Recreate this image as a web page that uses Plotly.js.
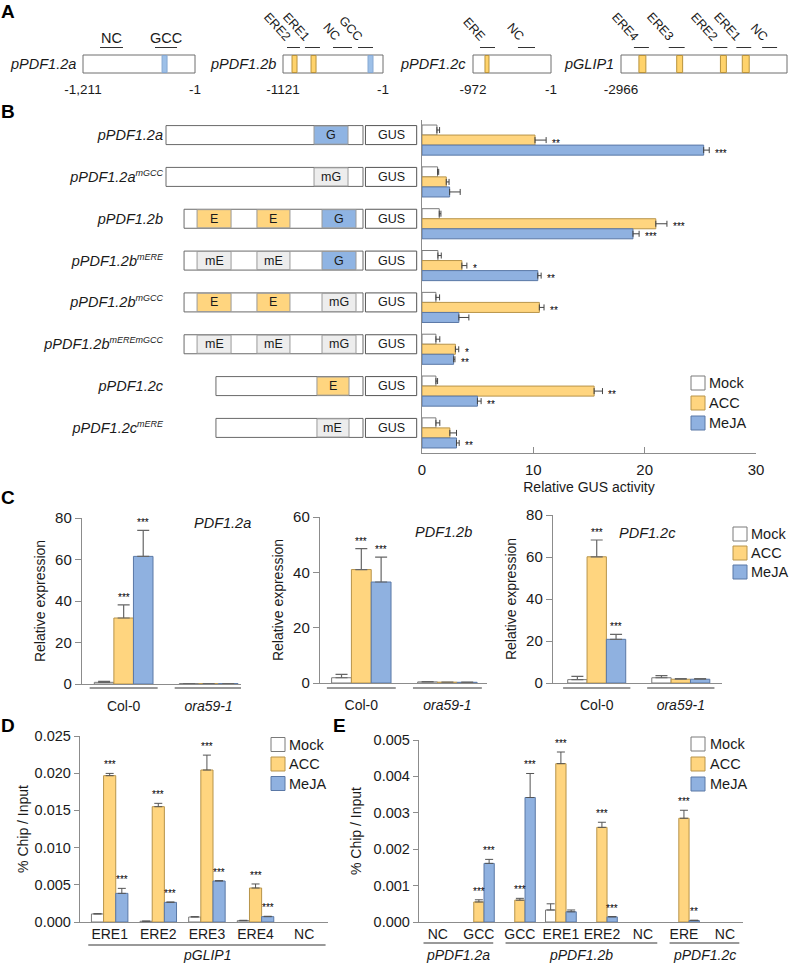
<!DOCTYPE html>
<html><head><meta charset="utf-8">
<script src="https://cdn.plot.ly/plotly-3.0.1.min.js"></script>
<style>body{margin:0;background:#fff}#chart{width:789px;height:963px}</style>
</head><body><div id="chart"></div>
<script>
// ================= DATA =================
const seriesNames = ['Mock', 'ACC', 'MeJA'];

// Panel A: promoter maps (bp relative to ATG)
const aPromoters = ['pPDF1.2a', 'pPDF1.2b', 'pPDF1.2c', 'pGLIP1'];
const aLengths = [1211, 1121, 972, 2966];
const aStartLabels = ['-1,211', '-1121', '-972', '-2966'];
const aSiteStarts = [[-357], [-1020, -807, -169], [-823], [-2646, -1971, -1190, -800]];
const aSiteEnds = [[-303], [-964, -751, -113], [-773], [-2522, -1865, -1084, -676]];
const aSiteTypes = [['GCC'], ['ERE', 'ERE', 'GCC'], ['ERE'], ['ERE', 'ERE', 'ERE', 'ERE']];
const aAmpNames = [['NC', 'GCC'], ['ERE2', 'ERE1', 'NC', 'GCC'], ['ERE', 'NC'], ['ERE4', 'ERE3', 'ERE2', 'ERE1', 'NC']];
const aAmpStarts = [[-1027, -433], [-1076, -875, -561, -281], [-885, -412], [-2735, -2113, -1315, -906, -445]];
const aAmpEnds = [[-779, -195], [-931, -707, -348, -113], [-698, -200], [-2468, -1829, -1066, -640, -178]];

// Panel B: reporter constructs and GUS activity
const bConstructs = ['pPDF1.2a', 'pPDF1.2a', 'pPDF1.2b', 'pPDF1.2b', 'pPDF1.2b', 'pPDF1.2b', 'pPDF1.2c', 'pPDF1.2c'];
const bMutations = ['', 'mGCC', '', 'mERE', 'mGCC', 'mEREmGCC', '', 'mERE'];
const bPromoterStart = [-1211, -1211, -1100, -1100, -1100, -1100, -904, -904];
const bSiteStarts = [[-301], [-301], [-1020, -652, -252], [-1020, -652, -252], [-1020, -652, -252], [-1020, -652, -252], [-283], [-283]];
const bSiteEnds = [[-92], [-92], [-811, -449, -43], [-811, -449, -43], [-811, -449, -43], [-811, -449, -43], [-86], [-86]];
const bSiteTypes = [['G'], ['mG'], ['E', 'E', 'G'], ['mE', 'mE', 'G'], ['E', 'E', 'mG'], ['mE', 'mE', 'mG'], ['E'], ['mE']];
const bReporter = 'GUS';
const bMock = [1.34, 1.40, 1.55, 1.43, 1.25, 1.25, 1.25, 1.25];
const bMockErr = [0.24, 0.10, 0.15, 0.30, 0.33, 0.35, 0.15, 0.35];
const bACC = [10.15, 2.18, 21.0, 3.58, 10.54, 3.0, 15.46, 2.5];
const bACCErr = [1.0, 0.25, 1.0, 0.45, 0.42, 0.30, 0.75, 0.60];
const bMeJA = [25.3, 2.48, 18.95, 10.4, 3.31, 2.84, 4.98, 3.1];
const bMeJAErr = [0.5, 0.95, 0.55, 0.30, 0.90, 0.12, 0.33, 0.24];
const bACCStars = ['**', '', '***', '*', '**', '*', '**', ''];
const bMeJAStars = ['***', '', '***', '**', '', '**', '**', '**'];
const bTicks = [0, 10, 20, 30];

// Panel C: qRT-PCR
const cGenes = ['PDF1.2a', 'PDF1.2b', 'PDF1.2c'];
const cGenotypes = ['Col-0', 'ora59-1'];
const cYMax = [80, 60, 80];
const cMock = [[0.8, 0.2], [1.9, 0.4], [1.6, 2.5]];
const cMockErr = [[0.5, 0.05], [1.2, 0.1], [1.6, 1.0]];
const cACC = [[31.8, 0.2], [41.0, 0.3], [60.1, 1.8]];
const cACCErr = [[6.3, 0.05], [7.6, 0.05], [8.0, 0.3]];
const cMeJA = [[61.5, 0.2], [36.5, 0.25], [20.8, 1.8]];
const cMeJAErr = [[12.5, 0.05], [9.0, 0.05], [2.4, 0.3]];
const cACCStars = [['***', ''], ['***', ''], ['***', '']];
const cMeJAStars = [['***', ''], ['***', ''], ['***', '']];

// Panel D: ChIP on pGLIP1
const dSites = ['ERE1', 'ERE2', 'ERE3', 'ERE4', 'NC'];
const dGroup = 'pGLIP1';
const dMock = [0.00108, 0.0001, 0.00067, 0.00018, null];
const dMockErr = [0.00004, 0.00002, 0.00005, 0.00005, 0];
const dACC = [0.01967, 0.0155, 0.02043, 0.00457, null];
const dACCErr = [0.0003, 0.00045, 0.002, 0.00054, 0];
const dMeJA = [0.00385, 0.00264, 0.00551, 0.00072, null];
const dMeJAErr = [0.00067, 0.00005, 0.00005, 0.00005, 0];
const dACCStars = ['***', '***', '***', '***', ''];
const dMeJAStars = ['***', '***', '***', '***', ''];

// Panel E: ChIP on PDF1.2 promoters
const eSites = ['NC', 'GCC', 'GCC', 'ERE1', 'ERE2', 'NC', 'ERE', 'NC'];
const eGroups = ['pPDF1.2a', 'pPDF1.2b', 'pPDF1.2c'];
const eGroupFirst = [0, 2, 6];
const eGroupLast = [1, 5, 7];
const eMock = [null, null, null, 0.00033, null, null, null, null];
const eMockErr = [0, 0, 0, 0.00017, 0, 0, 0, 0];
const eACC = [null, 0.00055, 0.0006, 0.00435, 0.0026, null, 0.00285, null];
const eACCErr = [0, 0.00006, 0.00005, 0.00032, 0.00014, 0, 0.00022, 0];
const eMeJA = [null, 0.00161, 0.00342, 0.00028, 0.00014, null, 0.00004, null];
const eMeJAErr = [0, 0.00011, 0.00066, 0.00005, 0.00001, 0, 0.00001, 0];
const eACCStars = ['', '***', '***', '***', '***', '', '***', ''];
const eMeJAStars = ['', '***', '***', '', '***', '', '**', ''];

// ================= STYLE =================
const W = 789, H = 963;
const FONT = '"Liberation Sans", Arial, sans-serif';
const TXT = '#1a1a1a';
const AXC = '#8c8c8c';
const seriesFill = ['#FFFFFF', '#FFD57F', '#8FB1E0'];
const seriesLine = ['#7a7a7a', '#B8944A', '#5A78A6'];
const siteFill = {E: '#FFD57F', G: '#8FB4E3', mE: '#EDEDED', mG: '#EDEDED', ERE: '#FFD36B', GCC: '#9DC0E8'};
const siteLine = {ERE: '#B8923C', GCC: '#86A8D2'};

const px = p => p / W;
const py = p => 1 - p / H;
const dX = (l, r) => [Math.max(0, l / W), Math.min(1, r / W)];
const dY = (t, b) => [Math.max(0, 1 - b / H), Math.min(1, 1 - t / H)];
const axName = (l, k) => (k === 1 ? l + 'axis' : l + 'axis' + k);
const axRef = (l, k) => (k === 1 ? l : l + k);

const traces = [], shapes = [], annotations = [];
const layout = {
  width: W, height: H, margin: {l: 0, r: 0, t: 0, b: 0},
  paper_bgcolor: '#ffffff', plot_bgcolor: 'rgba(0,0,0,0)',
  showlegend: false, barmode: 'overlay', hovermode: false,
  font: {family: FONT, size: 14, color: TXT}
};

function note(o) {
  const base = {showarrow: false, font: {size: 14, color: TXT, family: FONT}};
  const f = Object.assign({}, base.font, o.font || {});
  annotations.push(Object.assign(base, o, {font: f}));
}
function stars(o) { note(Object.assign(o, {font: {size: 10, color: '#000'}})); }
function legendAt(boxLeft, textLeft, centers) {
  seriesNames.forEach((n, s) => {
    shapes.push({type: 'rect', xref: 'paper', yref: 'paper', x0: px(boxLeft), x1: px(boxLeft + 14),
      y0: py(centers[s] + 7), y1: py(centers[s] - 7), fillcolor: seriesFill[s], line: {color: seriesLine[s], width: 1}});
    note({xref: 'paper', yref: 'paper', x: px(textLeft), y: py(centers[s]), xanchor: 'left', yanchor: 'middle', text: n, font: {size: 14.5}});
  });
}
function letter(t, x, y, anchor) {
  note({xref: 'paper', yref: 'paper', x: px(x), y: py(y), xanchor: 'left', yanchor: anchor || 'middle', borderpad: 0,
    text: '<b>' + t + '</b>', font: {size: 19, color: '#000'}});
}

// ================= PANEL A =================
const aBoxLeftPx = [83, 283, 473, 621], aBoxRightPx = [195, 383, 551, 787];
aPromoters.forEach((name, i) => {
  const k = i + 1, xr = axRef('x', k), yr = axRef('y', k);
  const len = aLengths[i], L = aBoxLeftPx[i], R = aBoxRightPx[i];
  const s = (len - 1) / (R - L);
  const dl = L - 4, dr = Math.min(W, R + 4);
  layout[axName('x', k)] = {domain: dX(dl, dr), range: [-len - (L - dl) * s, -1 + (dr - R) * s], anchor: yr,
    showgrid: false, zeroline: false, showline: false, ticks: '', tickvals: [-len, -1], ticktext: [aStartLabels[i], '-1'],
    tickfont: {size: 13.5}, ticklabelstandoff: 1, fixedrange: true};
  layout[axName('y', k)] = {domain: dY(30, 78), range: [0, 48], anchor: xr, visible: false, fixedrange: true};
  shapes.push({type: 'rect', xref: xr, yref: yr, x0: -len, x1: -1, y0: 5, y1: 23, fillcolor: '#fff', line: {color: '#6e6e6e', width: 1}});
  aSiteStarts[i].forEach((st, j) => {
    const t = aSiteTypes[i][j];
    shapes.push({type: 'rect', xref: xr, yref: yr, x0: st, x1: aSiteEnds[i][j], y0: 5.5, y1: 22.5, fillcolor: siteFill[t], line: {color: siteLine[t], width: 1}});
  });
  aAmpNames[i].forEach((nm, j) => {
    const c = (aAmpStarts[i][j] + aAmpEnds[i][j]) / 2;
    shapes.push({type: 'line', xref: xr, yref: yr, x0: aAmpStarts[i][j], x1: aAmpEnds[i][j], y0: 30.5, y1: 30.5, line: {color: '#333', width: 1}});
    if (i === 0) note({xref: xr, yref: yr, x: c, y: 30.5, text: nm, yanchor: 'bottom', yshift: 0, font: {size: 14.5}});
    else note({xref: xr, yref: yr, x: c, y: 30.5, text: nm, textangle: 48, xanchor: 'right', yanchor: 'bottom', xshift: 3, yshift: 1, font: {size: 12.5}});
  });
  note({xref: xr, yref: yr, x: -len, y: 14, text: '<i>' + name + '</i>', xanchor: 'right', yanchor: 'middle', xshift: -5, font: {size: 14.5}});
});
letter('A', 0, 0, 'top');

// ================= PANEL B =================
const bRows = bConstructs.map((_, i) => i);
const bsL = 164, bsR = 420, bsZero = 363, bsScale = 1211 / (363 - 166);
layout.xaxis5 = {domain: dX(bsL, bsR), range: [(bsL - bsZero) * bsScale, (bsR - bsZero) * bsScale], anchor: 'y5', visible: false, fixedrange: true};
layout.yaxis5 = {domain: dY(115, 448), range: [7.48, -0.48], anchor: 'x5', tickvals: bRows,
  ticktext: bConstructs.map((c, i) => '<i>' + c + (bMutations[i] ? '<sup><span style="font-size:9px">' + bMutations[i] + '</span></sup>' : '') + '</i>'),
  ticks: '', showline: false, showgrid: false, zeroline: false,
  tickfont: {size: 14.5}, ticklabelstandoff: 0, fixedrange: true};
const hb = 0.227;
bRows.forEach(i => {
  shapes.push({type: 'rect', xref: 'x5', yref: 'y5', x0: bPromoterStart[i], x1: 0, y0: i - hb, y1: i + hb, fillcolor: '#fff', line: {color: '#6a6a6a', width: 1}});
  bSiteStarts[i].forEach((st, j) => {
    const t = bSiteTypes[i][j], en = bSiteEnds[i][j];
    shapes.push({type: 'rect', xref: 'x5', yref: 'y5', x0: st, x1: en, y0: i - hb + 0.01, y1: i + hb - 0.01, fillcolor: siteFill[t], line: {color: '#9a9a9a', width: 1}});
    note({xref: 'x5', yref: 'y5', x: (st + en) / 2, y: i, text: t, font: {size: 12.5}});
  });
  shapes.push({type: 'rect', xref: 'x5', yref: 'y5', x0: 15, x1: 330, y0: i - hb, y1: i + hb, fillcolor: '#fff', line: {color: '#555', width: 1}});
  note({xref: 'x5', yref: 'y5', x: (15 + 330) / 2, y: i, text: bReporter, font: {size: 12.5}});
});

layout.xaxis6 = {domain: dX(422, 756), range: [0, 30], anchor: 'y6', showline: true, linecolor: AXC, linewidth: 1.2,
  ticks: 'inside', ticklen: 6, tickcolor: AXC, tickvals: bTicks, showgrid: false, zeroline: false,
  tickfont: {size: 15}, ticklabelstandoff: 3, fixedrange: true,
  title: {text: 'Relative GUS activity', font: {size: 14}, standoff: 5}};
layout.yaxis6 = {domain: dY(120, 453), range: [7.48, -0.48], anchor: 'x6', showline: true, linecolor: AXC, linewidth: 1.2,
  showticklabels: false, ticks: '', showgrid: false, zeroline: false, fixedrange: true};
const bVals = [bMock, bACC, bMeJA], bErrs = [bMockErr, bACCErr, bMeJAErr];
const bOff = [-0.36, -0.12, 0.12], bW = 0.24;
bVals.forEach((v, s) => {
  traces.push({type: 'bar', orientation: 'h', name: seriesNames[s], x: v, y: bRows, xaxis: 'x6', yaxis: 'y6',
    offset: bOff[s], width: bW, marker: {color: seriesFill[s], line: {color: seriesLine[s], width: 1}},
    error_x: {type: 'data', symmetric: false, array: bErrs[s], arrayminus: v.map(() => 0), color: '#444', thickness: 1, width: 3}});
});
[[bACC, bACCErr, bACCStars, 1], [bMeJA, bMeJAErr, bMeJAStars, 2]].forEach(([v, e, st, s]) => {
  st.forEach((t, i) => { if (t) stars({xref: 'x6', yref: 'y6', x: v[i] + e[i], y: i + bOff[s] + bW / 2, text: t, xanchor: 'left', yanchor: 'middle', xshift: 4, yshift: -3}); });
});
legendAt(691, 707, [383, 403, 423]);
letter('B', 0, 111);

// ================= PANEL C =================
const cBox = [{x: [82, 241], y: [518, 684], r: [-0.49, 1.38]}, {x: [320, 487], y: [517, 683], r: [-0.48, 1.46]}, {x: [553, 722], y: [515, 683], r: [-0.52, 1.49]}];
const cTitlePos = [[192, 523], [443, 532], [678, 533]];
const cX = cGenotypes.map((_, i) => i);
const cOff = [-0.345, -0.115, 0.115], cW = 0.23;
cGenes.forEach((g, p) => {
  const k = 7 + p, xr = 'x' + k, yr = 'y' + k, b = cBox[p];
  layout['xaxis' + k] = {domain: dX(b.x[0], b.x[1]), range: b.r, anchor: yr, showline: true, linecolor: AXC, linewidth: 1.2,
    ticks: '', tickvals: cX, ticktext: cGenotypes.map((t, i) => (i === 1 ? '<i>' + t + '</i>' : t)),
    tickfont: {size: 14}, ticklabelstandoff: 9, showgrid: false, zeroline: false, fixedrange: true};
  layout['yaxis' + k] = {domain: dY(b.y[0], b.y[1]), range: [0, cYMax[p]], dtick: 20, anchor: xr, showline: true, linecolor: AXC, linewidth: 1.2,
    ticks: 'outside', ticklen: 6, tickcolor: AXC, tickfont: {size: 15}, showgrid: false, zeroline: false, fixedrange: true,
    title: {text: 'Relative expression', font: {size: 14}, standoff: 6}};
  const vals = [cMock[p], cACC[p], cMeJA[p]], errs = [cMockErr[p], cACCErr[p], cMeJAErr[p]];
  vals.forEach((v, s) => {
    traces.push({type: 'bar', name: seriesNames[s], x: cX, y: v, xaxis: xr, yaxis: yr, offset: cOff[s], width: cW,
      marker: {color: seriesFill[s], line: {color: seriesLine[s], width: 1}},
      error_y: {type: 'data', symmetric: false, array: errs[s], arrayminus: v.map(() => 0), color: '#666', thickness: 1.2, width: 6}});
  });
  [[cACC[p], cACCErr[p], cACCStars[p], 1], [cMeJA[p], cMeJAErr[p], cMeJAStars[p], 2]].forEach(([v, e, st, s]) => {
    st.forEach((t, i) => { if (t) stars({xref: xr, yref: yr, x: i + cOff[s] + cW / 2, y: v[i] + e[i], text: t, yanchor: 'bottom', yshift: 0}); });
  });
  cX.forEach(i => shapes.push({type: 'line', xref: xr, yref: 'paper', x0: i - 0.4, x1: i + 0.4, y0: py(688), y1: py(688), line: {color: '#999', width: 2}}));
  note({xref: 'paper', yref: 'paper', x: px(cTitlePos[p][0]), y: py(cTitlePos[p][1]), text: '<i>' + g + '</i>', font: {size: 14.5}});
});
legendAt(733, 749, [534, 553, 572]);
letter('C', 0, 497);

// ================= PANEL D =================
const dX_ = dSites.map((_, i) => i);
const gOff = [-0.375, -0.125, 0.125], gW = 0.25;
layout.xaxis10 = {domain: dX(80, 328), range: [-0.61, 4.49], anchor: 'y10', showline: true, linecolor: AXC, linewidth: 1.2,
  ticks: '', tickvals: dX_, ticktext: dSites, tickfont: {size: 14}, ticklabelstandoff: -1, showgrid: false, zeroline: false, fixedrange: true};
layout.yaxis10 = {domain: dY(736, 922), range: [0, 0.025], dtick: 0.005, tickformat: '.3f', anchor: 'x10', showline: true, linecolor: AXC, linewidth: 1.2,
  ticks: 'outside', ticklen: 5, tickcolor: AXC, tickfont: {size: 14.5}, showgrid: false, zeroline: false, fixedrange: true,
  title: {text: '% Chip / Input', font: {size: 14}, standoff: 2}};
[[dMock, dMockErr], [dACC, dACCErr], [dMeJA, dMeJAErr]].forEach(([v, e], s) => {
  traces.push({type: 'bar', name: seriesNames[s], x: dX_, y: v, xaxis: 'x10', yaxis: 'y10', offset: gOff[s], width: gW,
    marker: {color: seriesFill[s], line: {color: seriesLine[s], width: 1}},
    error_y: {type: 'data', symmetric: false, array: e, arrayminus: e.map(() => 0), color: '#555', thickness: 1, width: 4}});
});
[[dACC, dACCErr, dACCStars, 1], [dMeJA, dMeJAErr, dMeJAStars, 2]].forEach(([v, e, st, s]) => {
  st.forEach((t, i) => { if (t) stars({xref: 'x10', yref: 'y10', x: i + gOff[s] + gW / 2, y: v[i] + e[i], text: t, yanchor: 'bottom', yshift: 1}); });
});
shapes.push({type: 'line', xref: 'x10', yref: 'paper', x0: -0.44, x1: dSites.length - 1 + 0.44, y0: py(945), y1: py(945), line: {color: '#999', width: 2}});
note({xref: 'x10', yref: 'paper', x: (dSites.length - 1) / 2, y: py(955), text: '<i>' + dGroup + '</i>', yanchor: 'middle', font: {size: 14}});
legendAt(271, 287, [744.5, 764, 783.5]);
letter('D', 0, 725);

// ================= PANEL E =================
const eX = eSites.map((_, i) => i);
layout.xaxis11 = {domain: dX(419, 743), range: [-0.46, 7.44], anchor: 'y11', showline: true, linecolor: AXC, linewidth: 1.2,
  ticks: '', tickvals: eX, ticktext: eSites, tickfont: {size: 14}, ticklabelstandoff: -1, showgrid: false, zeroline: false, fixedrange: true};
layout.yaxis11 = {domain: dY(740, 922), range: [0, 0.005], dtick: 0.001, tickformat: '.3f', anchor: 'x11', showline: true, linecolor: AXC, linewidth: 1.2,
  ticks: 'outside', ticklen: 5, tickcolor: AXC, tickfont: {size: 14.5}, showgrid: false, zeroline: false, fixedrange: true,
  title: {text: '% Chip / Input', font: {size: 14}, standoff: 8}};
[[eMock, eMockErr], [eACC, eACCErr], [eMeJA, eMeJAErr]].forEach(([v, e], s) => {
  traces.push({type: 'bar', name: seriesNames[s], x: eX, y: v, xaxis: 'x11', yaxis: 'y11', offset: gOff[s], width: gW,
    marker: {color: seriesFill[s], line: {color: seriesLine[s], width: 1}},
    error_y: {type: 'data', symmetric: false, array: e, arrayminus: e.map(() => 0), color: '#555', thickness: 1, width: 4}});
});
[[eACC, eACCErr, eACCStars, 1], [eMeJA, eMeJAErr, eMeJAStars, 2]].forEach(([v, e, st, s]) => {
  st.forEach((t, i) => { if (t) stars({xref: 'x11', yref: 'y11', x: i + gOff[s] + gW / 2, y: v[i] + e[i], text: t, yanchor: 'bottom', yshift: 1}); });
});
eGroups.forEach((g, j) => {
  shapes.push({type: 'line', xref: 'x11', yref: 'paper', x0: eGroupFirst[j] - 0.35, x1: eGroupLast[j] + 0.35, y0: py(943), y1: py(943), line: {color: '#999', width: 2}});
  note({xref: 'x11', yref: 'paper', x: (eGroupFirst[j] + eGroupLast[j]) / 2, y: py(955), text: '<i>' + g + '</i>', yanchor: 'middle', font: {size: 14}});
});
legendAt(691, 708, [744, 764, 784]);
letter('E', 332, 725);

layout.shapes = shapes;
layout.annotations = annotations;
Plotly.newPlot('chart', traces, layout, {staticPlot: true, displayModeBar: false});
</script>
</body></html>
